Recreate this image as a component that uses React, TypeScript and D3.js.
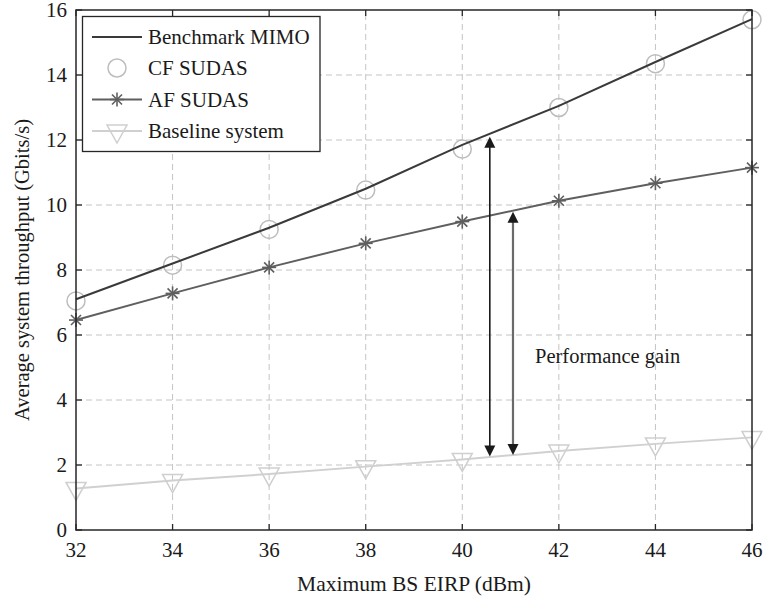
import React from "react";
import * as d3 from "d3";

const xValues = [32, 34, 36, 38, 40, 42, 44, 46];
const benchmarkMIMO = [7.1, 8.2, 9.3, 10.5, 11.85, 13.05, 14.4, 15.72];
const cfSUDAS = [7.05, 8.15, 9.25, 10.46, 11.72, 13.0, 14.35, 15.7];
const afSUDAS = [6.46, 7.28, 8.08, 8.82, 9.49, 10.13, 10.67, 11.15];
const baseline = [1.28, 1.52, 1.72, 1.95, 2.17, 2.43, 2.65, 2.85];
const xTicks = [32, 34, 36, 38, 40, 42, 44, 46];
const yTicks = [0, 2, 4, 6, 8, 10, 12, 14, 16];
const legendLabels = ["Benchmark MIMO", "CF SUDAS", "AF SUDAS", "Baseline system"];
// arrows: [x, yTop, yBottom]
const arrowBig = [40.57, 12.1, 2.26];
const arrowSmall = [41.05, 9.79, 2.31];
const annotation = "Performance gain";

const W = 763, H = 597;
const M = { left: 76, top: 10, right: 11, bottom: 67 };
const FONT = "'Liberation Serif', 'Times New Roman', serif";

export default function App() {
  const x = d3.scaleLinear().domain([32, 46]).range([M.left, W - M.right]);
  const y = d3.scaleLinear().domain([0, 16]).range([H - M.bottom, M.top]);
  const line = d3.line<number>().x((_, i) => x(xValues[i])).y((d) => y(d));
  const x0 = x(32), x1 = x(46), y0 = y(0), y1 = y(16);

  const star = (cx: number, cy: number, c: string, k: string) => (
    <g key={k} stroke={c} strokeWidth={1.6}>
      <line x1={cx - 7} x2={cx + 7} y1={cy} y2={cy} />
      <line x1={cx} x2={cx} y1={cy - 7} y2={cy + 7} />
      <line x1={cx - 5} x2={cx + 5} y1={cy - 5} y2={cy + 5} />
      <line x1={cx - 5} x2={cx + 5} y1={cy + 5} y2={cy - 5} />
    </g>
  );
  const tri = (cx: number, cy: number, c: string, k: string) => (
    <path key={k} d={`M${cx - 10},${cy - 6}L${cx + 10},${cy - 6}L${cx},${cy + 12}Z`} fill="none" stroke={c} strokeWidth={1.5} />
  );
  const circ = (cx: number, cy: number, c: string, k: string) => (
    <circle key={k} cx={cx} cy={cy} r={9} fill="none" stroke={c} strokeWidth={1.5} />
  );

  const arrow = (a: number[], lineColor: string, lw: number, k: string) => {
    const ax = x(a[0]), yt = y(a[1]), yb = y(a[2]);
    return (
      <g key={k}>
        <line x1={ax} x2={ax} y1={yt + 8} y2={yb - 8} stroke={lineColor} strokeWidth={lw} />
        <path d={`M${ax},${yt}L${ax - 5.5},${yt + 11}L${ax + 5.5},${yt + 11}Z`} fill="#1a1a1a" />
        <path d={`M${ax},${yb}L${ax - 5.5},${yb - 11}L${ax + 5.5},${yb - 11}Z`} fill="#1a1a1a" />
      </g>
    );
  };

  const lx0 = 92, lx1 = 142, lxm = 117, ltx = 148;
  const rowY = [37, 68, 99.5, 131];

  return (
    <svg width={W} height={H} style={{ position: "absolute", left: 0, top: 0, background: "#fff" }} fontFamily={FONT}>
      <rect x={0} y={0} width={W} height={H} fill="#fff" />
      {/* grid */}
      {xTicks.slice(1, -1).map((t) => (
        <line key={"gx" + t} x1={x(t)} x2={x(t)} y1={y0} y2={y1} stroke="#c4c4c4" strokeWidth={1} strokeDasharray="6,4" />
      ))}
      {yTicks.slice(1, -1).map((t) => (
        <line key={"gy" + t} x1={x0} x2={x1} y1={y(t)} y2={y(t)} stroke="#c4c4c4" strokeWidth={1} strokeDasharray="6,4" />
      ))}
      {/* series */}
      <path d={line(baseline) || ""} fill="none" stroke="#d0d0d0" strokeWidth={2} />
      {baseline.map((v, i) => tri(x(xValues[i]), y(v), "#cfcfcf", "t" + i))}
      <path d={line(afSUDAS) || ""} fill="none" stroke="#5f5f5f" strokeWidth={2} />
      {afSUDAS.map((v, i) => star(x(xValues[i]), y(v), "#5f5f5f", "s" + i))}
      {cfSUDAS.map((v, i) => circ(x(xValues[i]), y(v), "#bdbdbd", "c" + i))}
      <path d={line(benchmarkMIMO) || ""} fill="none" stroke="#3a3a3a" strokeWidth={2} />
      {/* arrows */}
      {arrow(arrowBig, "#1a1a1a", 1.6, "a1")}
      {arrow(arrowSmall, "#6a6a6a", 2.2, "a2")}
      <text x={535} y={363} fontSize={20.5} fill="#1a1a1a">{annotation}</text>
      {/* axes box */}
      <rect x={x0} y={y1} width={x1 - x0} height={y0 - y1} fill="none" stroke="#262626" strokeWidth={1.5} />
      {xTicks.map((t) => (
        <g key={"xt" + t}>
          <line x1={x(t)} x2={x(t)} y1={y0} y2={y0 - 6} stroke="#262626" strokeWidth={1.3} />
          <line x1={x(t)} x2={x(t)} y1={y1} y2={y1 + 6} stroke="#262626" strokeWidth={1.3} />
          <text x={x(t)} y={y0 + 27} textAnchor="middle" fontSize={21} fill="#1a1a1a">{t}</text>
        </g>
      ))}
      {yTicks.map((t) => (
        <g key={"yt" + t}>
          <line x1={x0} x2={x0 + 6} y1={y(t)} y2={y(t)} stroke="#262626" strokeWidth={1.3} />
          <line x1={x1} x2={x1 - 6} y1={y(t)} y2={y(t)} stroke="#262626" strokeWidth={1.3} />
          <text x={x0 - 9} y={y(t) + 7} textAnchor="end" fontSize={21} fill="#1a1a1a">{t}</text>
        </g>
      ))}
      <text x={(x0 + x1) / 2} y={591} textAnchor="middle" fontSize={21.5} fill="#1a1a1a">Maximum BS EIRP (dBm)</text>
      <text transform={`translate(29,${(y0 + y1) / 2}) rotate(-90)`} textAnchor="middle" fontSize={20.5} fill="#1a1a1a">Average system throughput (Gbits/s)</text>
      {/* legend */}
      <rect x={82.5} y={16.5} width={237.5} height={135} fill="#fff" stroke="#262626" strokeWidth={1.3} />
      <line x1={lx0} x2={lx1} y1={rowY[0]} y2={rowY[0]} stroke="#3a3a3a" strokeWidth={2} />
      {circ(lxm, rowY[1], "#bdbdbd", "lc")}
      <line x1={lx0} x2={lx1} y1={rowY[2]} y2={rowY[2]} stroke="#5f5f5f" strokeWidth={2} />
      {star(lxm, rowY[2], "#5f5f5f", "ls")}
      <line x1={lx0} x2={lx1} y1={rowY[3]} y2={rowY[3]} stroke="#d0d0d0" strokeWidth={2} />
      {tri(lxm, rowY[3], "#cfcfcf", "lt")}
      {legendLabels.map((l, i) => (
        <text key={l} x={ltx} y={rowY[i] + 7} fontSize={21} fill="#1a1a1a">{l}</text>
      ))}
    </svg>
  );
}
